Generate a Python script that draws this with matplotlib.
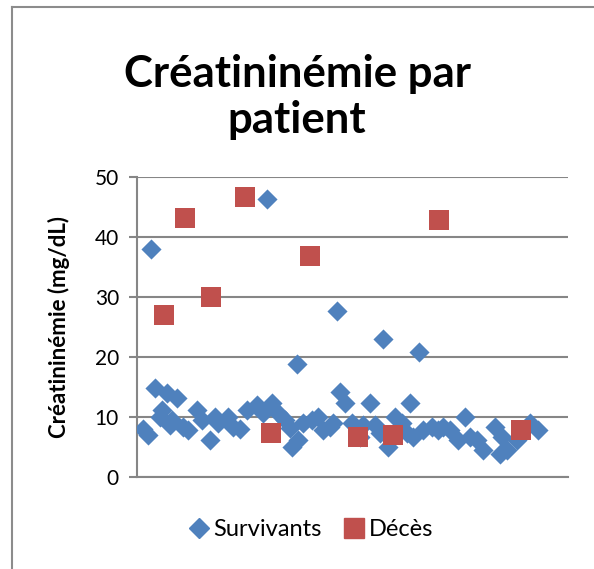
import matplotlib
matplotlib.use("Agg")
import matplotlib.pyplot as plt
from matplotlib.lines import Line2D

# patient index / creatininemia (mg/dL)
surv_x = [1.3, 2.3, 2.9, 3.8, 4.8, 5.2, 6.3, 6.9, 7.3, 8.4, 9.6, 10.6, 12.5, 13.6,
          15.2, 16.3, 16.9, 19.0, 20.0, 21.5, 23.0, 25.1, 26.3, 27.1, 28.2, 29.4,
          30.9, 31.9, 32.4, 33.4, 33.6, 34.7, 36.5, 37.8, 38.8, 40.3, 40.9, 41.8,
          42.4, 43.4, 44.9, 46.6, 47.2, 48.6, 49.7, 50.7, 51.4, 52.4, 53.9, 55.3,
          56.4, 57.0, 57.6, 58.9, 59.7, 61.6, 62.8, 63.9, 65.3, 67.0, 68.5, 69.5,
          71.0, 72.2, 74.7, 75.8, 76.2, 77.2, 79.3, 82.0, 83.7]
surv_y = [8.0, 7.0, 38.0, 14.8, 10.0, 11.2, 14.0, 8.7, 9.5, 13.2, 8.3, 7.8, 11.2, 9.5,
          6.2, 10.0, 9.0, 10.0, 8.3, 8.0, 11.2, 12.0, 10.7, 46.3, 12.3, 10.7,
          9.5, 8.2, 5.0, 18.8, 6.2, 9.0, 9.5, 10.0, 7.8, 8.3, 9.0, 27.7,
          14.2, 12.3, 9.0, 6.7, 8.7, 12.3, 8.7, 7.3, 23.0, 5.0, 10.0, 9.0,
          7.3, 12.3, 6.7, 20.8, 7.8, 8.3, 7.8, 8.3, 7.8, 6.2, 10.0, 6.7,
          6.2, 4.5, 8.3, 3.8, 6.7, 4.5, 6.2, 9.0, 7.8]

deces_x = [5.6, 10.0, 15.4, 22.5, 28.0, 36.1, 46.1, 53.4, 63.0, 80.2]
deces_y = [27.0, 43.2, 30.0, 46.7, 7.3, 36.9, 6.7, 7.0, 42.8, 7.8]

yticks = [0, 10, 20, 30, 40, 50]

blue = "#4F81BD"
red = "#C0504D"
grid = "#868686"
font = ["Lato", "DejaVu Sans"]

fig = plt.figure(figsize=(5.94, 5.69), dpi=100)
ax = fig.add_axes([137/594, 1-477/569, (568-137)/594, 300/569])

ax.scatter(surv_x, surv_y, marker="D", s=105, color=blue, linewidths=0, zorder=3)
ax.scatter(deces_x, deces_y, marker="s", s=205, color=red, linewidths=0, zorder=4)

ax.set_xlim(0, 90)
ax.set_ylim(0, 50)
ax.set_yticks(yticks)
ax.set_yticklabels([str(t) for t in yticks], fontsize=15, family=font)
ax.set_xticks([])
ax.yaxis.grid(True, color=grid, linewidth=1.5)
ax.set_axisbelow(True)
for s in ["top", "right"]:
    ax.spines[s].set_visible(False)
ax.spines["left"].set_color(grid)
ax.spines["bottom"].set_color(grid)
ax.spines["left"].set_linewidth(1.5)
ax.spines["bottom"].set_linewidth(1.5)
ax.tick_params(axis="y", length=6, width=1.5, color=grid, pad=7)

ax.set_ylabel("Créatininémie (mg/dL)", fontsize=16, fontweight="bold",
              family=font, labelpad=18)

fig.text(0.5, 1-97/569, "Créatininémie par\npatient", ha="center", va="center",
         fontsize=31.5, fontweight="bold", family=font, linespacing=1.2)

handles = [Line2D([], [], marker="D", ls="", color=blue, markersize=10),
           Line2D([], [], marker="s", ls="", color=red, markersize=14)]
fig.legend(handles, ["Survivants", "Décès"], loc="center",
           bbox_to_anchor=(310/594, 1-530/569), ncol=2, frameon=False,
           prop={"family": font, "size": 17}, handletextpad=0.1,
           columnspacing=0.9, handlelength=1.0)

# outer chart border (top and left only visible)
fig.add_artist(Line2D([12/594, 12/594], [0, 1-7/569], color="#8C8C8C", lw=1.5,
                      transform=fig.transFigure))
fig.add_artist(Line2D([12/594, 1], [1-7/569, 1-7/569], color="#8C8C8C", lw=1.5,
                      transform=fig.transFigure))

fig.savefig("out.png", dpi=100, facecolor="white")
